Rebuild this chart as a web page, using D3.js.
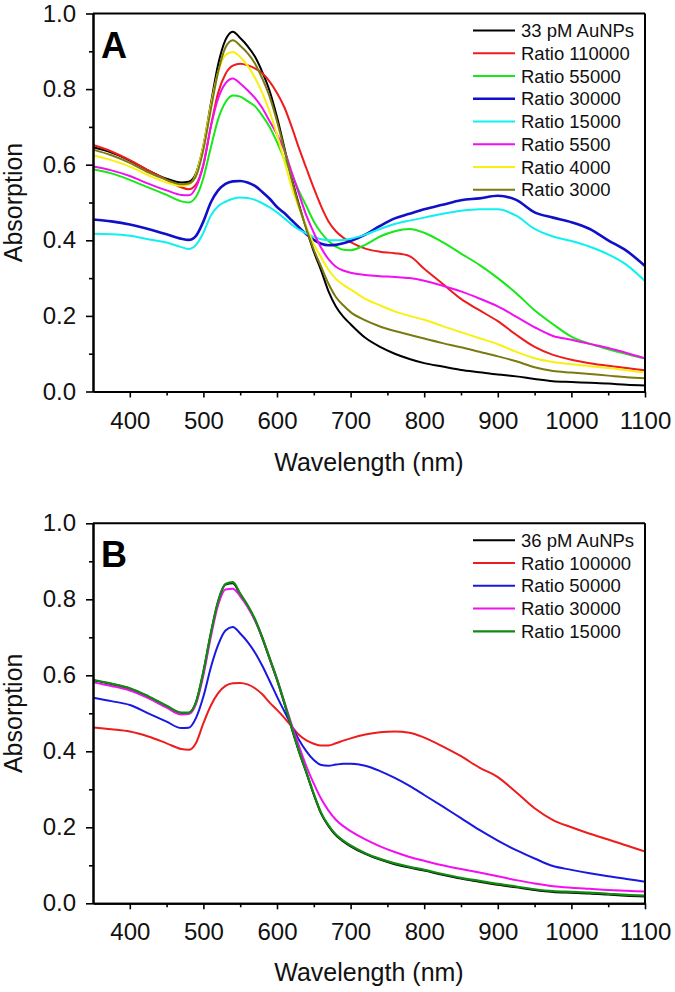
<!DOCTYPE html>
<html><head><meta charset="utf-8">
<script src="https://cdn.jsdelivr.net/npm/d3@7"></script>
<style>body{margin:0;background:#fff}svg{display:block}</style>
</head><body>
<svg id="chart" width="675" height="992"></svg>
<script>
// ---------- DATA ----------
const wavelengths = [350,375,400,425,450,470,480,490,500,510,520,530,540,550,560,570,580,590,600,610,620,630,640,650,660,670,680,690,700,720,740,760,780,800,825,850,875,900,925,950,975,1000,1025,1050,1075,1100];

// Panel A
const labelsA = ["33 pM AuNPs","Ratio 110000","Ratio 55000","Ratio 30000","Ratio 15000","Ratio 5500","Ratio 4000","Ratio 3000"];
const colorsA = ["#000000","#ee1c1c","#18e818","#1010c8","#10f0f0","#f010f0","#f8f010","#7a7a10"];
const a_aunp33 = [.646,.632,.611,.585,.563,.553,.555,.578,.65,.76,.865,.93,.952,.935,.914,.886,.845,.795,.726,.645,.565,.493,.43,.37,.32,.265,.225,.198,.178,.142,.118,.1,.086,.075,.066,.057,.051,.045,.04,.033,.027,.025,.023,.021,.018,.016];
const a_r110000 = [.652,.635,.612,.585,.56,.54,.535,.548,.6,.7,.79,.84,.862,.867,.863,.855,.842,.82,.79,.752,.7,.643,.59,.538,.49,.45,.424,.407,.395,.378,.37,.366,.358,.325,.285,.245,.215,.186,.15,.118,.097,.084,.075,.068,.062,.056];
const a_r55000 = [.588,.577,.56,.54,.52,.503,.5,.515,.565,.645,.72,.765,.783,.78,.768,.755,.73,.7,.66,.615,.575,.53,.49,.45,.42,.398,.383,.375,.374,.388,.41,.424,.43,.42,.395,.365,.335,.3,.26,.215,.178,.145,.126,.112,.099,.087];
const a_r30000 = [.455,.45,.442,.43,.416,.404,.401,.412,.45,.5,.532,.549,.556,.557,.553,.544,.528,.51,.488,.472,.453,.434,.416,.401,.391,.387,.388,.392,.398,.415,.438,.458,.47,.482,.494,.506,.511,.518,.507,.474,.46,.448,.43,.4,.372,.332];
const a_r15000 = [.417,.416,.412,.403,.394,.382,.377,.388,.42,.465,.49,.502,.51,.513,.512,.507,.498,.487,.474,.458,.442,.428,.418,.409,.403,.4,.4,.401,.404,.415,.43,.443,.452,.46,.47,.478,.482,.482,.465,.43,.41,.398,.383,.363,.335,.292];
const a_r5500 = [.595,.585,.57,.55,.532,.52,.519,.54,.6,.7,.775,.815,.828,.815,.797,.777,.75,.715,.68,.638,.58,.522,.465,.42,.38,.35,.33,.32,.314,.308,.305,.303,.3,.293,.28,.265,.246,.225,.198,.17,.147,.137,.126,.115,.102,.088];
const a_r4000 = [.625,.612,.595,.572,.553,.544,.547,.575,.65,.755,.845,.89,.898,.885,.862,.83,.79,.74,.68,.61,.54,.485,.435,.39,.355,.322,.298,.282,.27,.245,.228,.212,.2,.19,.173,.157,.141,.125,.105,.088,.078,.072,.067,.062,.056,.05];
const a_r3000 = [.64,.625,.605,.58,.56,.548,.55,.57,.64,.745,.845,.91,.929,.915,.895,.868,.828,.78,.715,.64,.56,.49,.43,.375,.33,.285,.25,.228,.21,.188,.172,.16,.15,.14,.128,.117,.105,.093,.08,.064,.054,.05,.046,.042,.038,.035];

// Panel B
const labelsB = ["36 pM AuNPs","Ratio 100000","Ratio 50000","Ratio 30000","Ratio 15000"];
const colorsB = ["#000000","#ee1c1c","#1818e0","#f010f0","#108a10"];
const b_aunp36 = [.587,.577,.565,.544,.519,.501,.501,.529,.609,.709,.794,.839,.842,.813,.783,.746,.698,.643,.588,.526,.46,.398,.343,.286,.236,.203,.179,.163,.15,.13,.115,.103,.094,.086,.075,.065,.057,.049,.042,.035,.03,.028,.026,.023,.02,.018];
const b_r100000 = [.463,.458,.452,.439,.421,.406,.404,.422,.474,.52,.553,.572,.579,.58,.576,.566,.55,.528,.509,.488,.465,.443,.429,.42,.415,.415,.421,.428,.434,.444,.45,.452,.449,.436,.413,.387,.357,.332,.292,.25,.219,.2,.183,.168,.152,.136];
const b_r50000 = [.541,.532,.522,.5,.478,.461,.462,.488,.544,.62,.68,.718,.727,.71,.688,.66,.625,.585,.544,.505,.467,.43,.4,.377,.364,.362,.365,.367,.367,.362,.348,.33,.309,.285,.255,.224,.193,.165,.14,.118,.098,.088,.079,.071,.064,.057];
const b_r30000 = [.582,.572,.56,.54,.515,.497,.498,.525,.6,.7,.785,.826,.828,.808,.78,.745,.7,.645,.59,.53,.47,.413,.36,.315,.275,.244,.22,.203,.19,.168,.15,.135,.122,.112,.1,.09,.081,.071,.061,.052,.045,.041,.038,.035,.033,.031];
const b_r15000 = [.588,.578,.566,.545,.52,.502,.502,.53,.61,.71,.795,.84,.845,.815,.785,.748,.7,.645,.59,.528,.462,.4,.345,.288,.238,.205,.181,.165,.152,.132,.117,.105,.096,.088,.077,.067,.059,.051,.044,.037,.032,.03,.028,.025,.022,.02];

const xTicks = [400,500,600,700,800,900,1000,1100];
const xMinorTicks = [450,550,650,750,850,950,1050];
const yTicks = [0,0.2,0.4,0.6,0.8,1.0];
const yMinorTicks = [0.1,0.3,0.5,0.7,0.9];

// ---------- DRAW ----------
const FONT = "Arial, 'Liberation Sans', sans-serif";
const svg = d3.select("#chart");
svg.append("rect").attr("width",675).attr("height",992).attr("fill","#fff");

const panels = [
  {letter:"A", top:13.5, bottom:391.5, labels:labelsA, colors:colorsA,
   series:[a_aunp33,a_r110000,a_r55000,a_r30000,a_r15000,a_r5500,a_r4000,a_r3000],
   widths:[2,2,2,2.6,2,2,2,2], titleY:471},
  {letter:"B", top:523.3, bottom:903.3, labels:labelsB, colors:colorsB,
   series:[b_aunp36,b_r100000,b_r50000,b_r30000,b_r15000],
   widths:[2,2,2,2,2.2], titleY:981}
];
const left = 93, right = 645;

panels.forEach(p => {
  const x = d3.scaleLinear().domain([350,1100]).range([left,right]);
  const y = d3.scaleLinear().domain([0,1]).range([p.bottom,p.top]);
  const g = svg.append("g");

  // clip
  const cid = "clip"+p.letter;
  svg.append("clipPath").attr("id",cid).append("rect")
    .attr("x",left).attr("y",p.top).attr("width",right-left).attr("height",p.bottom-p.top);

  const line = d3.line().x((d,i)=>x(wavelengths[i])).y(d=>y(d)).curve(d3.curveMonotoneX);
  const lg = g.append("g").attr("clip-path",`url(#${cid})`);
  p.series.forEach((s,i)=>{
    lg.append("path").datum(s).attr("d",line).attr("fill","none")
      .attr("stroke",p.colors[i]).attr("stroke-width",p.widths[i])
      .attr("stroke-linejoin","round");
  });

  // axes
  const xAxis = g.append("g").attr("transform",`translate(0,${p.bottom})`)
    .call(d3.axisBottom(x).tickValues(xTicks).tickSize(6).tickPadding(14).tickSizeOuter(0).tickFormat(d3.format("d")));
  g.append("g").attr("transform",`translate(0,${p.bottom})`)
    .call(d3.axisBottom(x).tickValues(xMinorTicks).tickSize(4).tickSizeOuter(0).tickFormat(""));
  const yAxis = g.append("g").attr("transform",`translate(${left},0)`)
    .call(d3.axisLeft(y).tickValues(yTicks).tickSize(7).tickPadding(10).tickSizeOuter(0).tickFormat(d3.format(".1f")));
  g.append("g").attr("transform",`translate(${left},0)`)
    .call(d3.axisLeft(y).tickValues(yMinorTicks).tickSize(4).tickSizeOuter(0).tickFormat(""));
  g.selectAll(".domain").attr("stroke","#000").attr("stroke-width",2);
  g.selectAll(".tick line").attr("stroke","#000").attr("stroke-width",1.6);
  g.selectAll(".tick text").attr("font-family",FONT).attr("font-size",24).attr("fill","#111");

  // frame top/right
  g.append("line").attr("x1",left).attr("x2",right).attr("y1",p.top).attr("y2",p.top).attr("stroke","#000").attr("stroke-width",2);
  g.append("line").attr("x1",right).attr("x2",right).attr("y1",p.top).attr("y2",p.bottom).attr("stroke","#000").attr("stroke-width",2);

  // panel letter
  g.append("text").attr("x",101).attr("y",p.top+44).text(p.letter)
    .attr("font-family",FONT).attr("font-weight","bold").attr("font-size",36).attr("fill","#000");

  // legend
  p.labels.forEach((lab,i)=>{
    const ly = p.top + 17 + i*22.75;
    g.append("line").attr("x1",473).attr("x2",515).attr("y1",ly).attr("y2",ly)
      .attr("stroke",p.colors[i]).attr("stroke-width",p.widths[i]);
    g.append("text").attr("x",521).attr("y",ly).attr("dy","0.36em").text(lab)
      .attr("font-family",FONT).attr("font-size",18.5).attr("fill","#111");
  });

  // axis titles
  g.append("text").attr("x",(left+right)/2).attr("y",p.titleY).attr("text-anchor","middle")
    .text("Wavelength (nm)").attr("font-family",FONT).attr("font-size",25).attr("fill","#111");
  g.append("text").attr("transform",`translate(22,${(p.top+p.bottom)/2}) rotate(-90)`)
    .attr("text-anchor","middle").text("Absorption")
    .attr("font-family",FONT).attr("font-size",25).attr("fill","#111");
});
</script>
</body></html>
